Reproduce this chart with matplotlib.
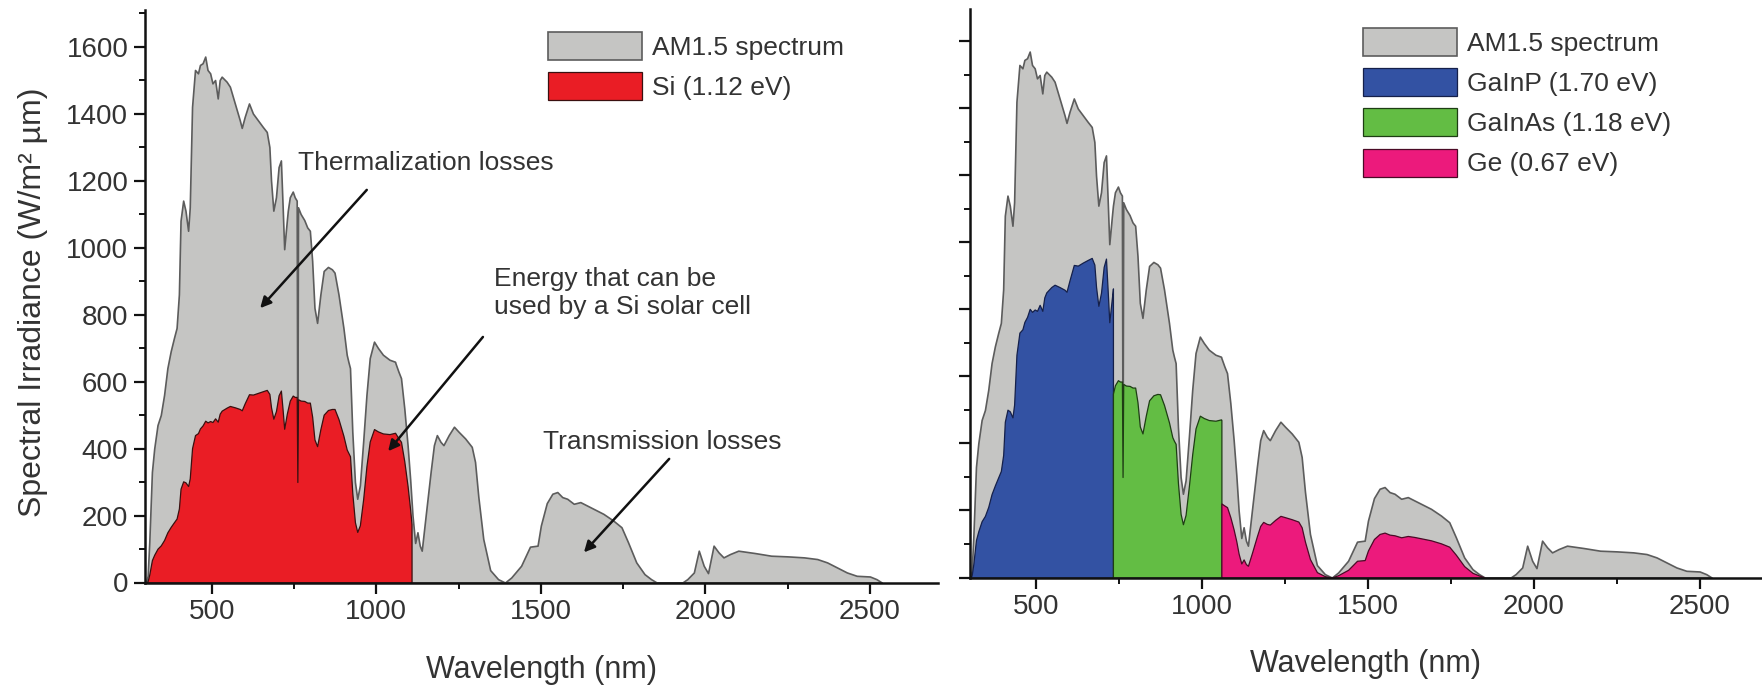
import matplotlib
matplotlib.use("Agg")
import matplotlib.pyplot as plt
from matplotlib.ticker import MultipleLocator

plt.rcParams['font.family'] = ['Liberation Sans', 'DejaVu Sans']

# ---- AM1.5 spectrum ----
wavelength = [300, 305, 310, 318, 325, 335, 345, 355, 365, 375, 385, 393, 400, 405, 413, 420, 428, 433,
              440, 449, 458, 464, 472, 480, 487, 495, 502, 510, 518, 524, 530, 545, 555, 570, 585, 591,
              600, 613, 625, 640, 655, 667, 675, 680, 687, 695, 703, 710, 715, 720, 728, 731, 737, 746,
              752, 758, 760, 762, 770, 781, 790, 798, 805, 812, 820, 830, 840, 853, 865, 873, 885, 900,
              910, 915, 920, 927, 935, 942, 950, 960, 970, 980, 993, 1005, 1020, 1040, 1057, 1058, 1067,
              1075, 1085, 1095, 1103, 1107, 1110, 1118, 1125, 1132, 1138, 1150, 1165, 1175, 1184, 1195,
              1204, 1220, 1236, 1250, 1270, 1290, 1300, 1310, 1325, 1346, 1370, 1391, 1410, 1440, 1467,
              1490, 1500, 1518, 1535, 1550, 1565, 1580, 1600, 1620, 1640, 1660, 1690, 1720, 1745, 1765,
              1790, 1815, 1835, 1852, 1930, 1945, 1965, 1980, 1995, 2008, 2025, 2040, 2055, 2075, 2100,
              2150, 2200, 2250, 2300, 2340, 2370, 2400, 2430, 2460, 2500, 2520, 2536]
am15 = [0, 20, 120, 330, 400, 470, 500, 560, 640, 690, 730, 760, 860, 1080, 1140, 1110, 1050, 1120,
        1420, 1530, 1520, 1545, 1550, 1570, 1530, 1520, 1490, 1500, 1445, 1500, 1510, 1495, 1480, 1430, 1380, 1357,
        1390, 1430, 1400, 1380, 1360, 1345, 1300, 1200, 1110, 1150, 1240, 1260, 1130, 995, 1080, 1110, 1150, 1167,
        1150, 1140, 310, 1120, 1100, 1082, 1060, 1050, 960, 820, 775, 860, 930, 942, 935, 925, 860, 760,
        680, 659, 640, 450, 300, 250, 290, 420, 560, 670, 719, 700, 680, 665, 659, 655, 630,
        610, 520, 410, 306, 245, 200, 118, 150, 110, 95, 200, 330, 410, 440, 420,
        410, 440, 465, 450, 430, 405, 360, 256, 130, 37, 10, 0, 15, 50, 107,
        110, 170, 237, 265, 270, 255, 250, 235, 240, 230, 220, 205, 185, 165, 120,
        60, 25, 10, 0, 0, 10, 30, 95, 50, 28, 110, 90, 75, 85, 95,
        88, 80, 78, 75, 70, 60, 45, 30, 20, 18, 10, 0]

# ---- Si (1.12 eV) usable part, left panel ----
si_wl = [300, 305, 310, 318, 325, 335, 345, 355, 365, 375, 385, 393, 400, 405, 413, 420, 428, 433,
         440, 449, 458, 464, 472, 480, 487, 495, 502, 510, 518, 524, 530, 545, 555, 570, 585, 591,
         600, 613, 625, 640, 655, 667, 675, 680, 687, 695, 703, 710, 715, 720, 728, 737, 746,
         752, 758, 760, 762, 770, 781, 790, 798, 805, 812, 820, 830, 840, 853, 865, 873, 885, 900,
         910, 915, 920, 927, 935, 942, 950, 960, 970, 980, 993, 1005, 1020, 1040, 1057, 1067,
         1075, 1085, 1095, 1103, 1107, 1107.1]
si_val = [0, 4, 24, 67, 83, 101, 111, 127, 150, 166, 180, 191, 221, 280, 302, 299, 288, 311,
          401, 440, 446, 460, 469, 483, 478, 482, 479, 490, 480, 504, 513, 522, 527, 523, 518, 514,
          535, 562, 561, 566, 571, 575, 563, 523, 489, 512, 559, 573, 518, 459, 504, 543, 558,
          554, 554, 300, 547, 543, 542, 537, 537, 495, 427, 407, 458, 501, 515, 518, 518, 488, 438,
          397, 387, 377, 267, 180, 151, 171, 249, 348, 421, 458, 451, 445, 443, 447, 431,
          420, 362, 288, 216, 174, 0]

# ---- Triple junction, right panel ----
gainp_wl = [300, 305, 310, 318, 325, 335, 345, 355, 365, 375, 385, 393, 400, 405, 413, 420, 428, 433,
            440, 449, 458, 464, 472, 480, 487, 495, 502, 510, 518, 524, 530, 545, 555, 570, 585, 591,
            600, 613, 625, 640, 655, 667, 675, 680, 687, 695, 703, 710, 715, 720, 728, 731, 731.1]
gainp_val = [0, 6, 40, 112, 138, 168, 184, 211, 249, 275, 299, 318, 366, 465, 501, 496, 478, 516,
             665, 731, 741, 763, 778, 802, 793, 800, 796, 814, 796, 836, 851, 867, 874, 867, 859, 853,
             887, 933, 931, 940, 948, 954, 934, 868, 811, 850, 927, 952, 859, 762, 836, 863, 0]

gainas_wl = [730.9, 731, 737, 746, 752, 758, 760, 762, 770, 781, 790, 798, 805, 812, 820, 830, 840, 853,
             865, 873, 885, 900, 910, 915, 920, 927, 935, 942, 950, 960, 970, 980, 993, 1005, 1020,
             1040, 1057, 1058, 1058.1]
gainas_val = [0, 549, 574, 589, 585, 585, 300, 578, 573, 572, 567, 567, 523, 451, 430, 483, 529, 544,
              548, 547, 515, 463, 419, 408, 399, 282, 190, 159, 187, 273, 368, 445, 483, 476, 470,
              468, 472, 470, 0]

ge_wl = [1057.9, 1058, 1067, 1075, 1085, 1095, 1103, 1110, 1118, 1125, 1132, 1138, 1150, 1165, 1175, 1184,
         1195, 1204, 1220, 1236, 1250, 1270, 1290, 1300, 1310, 1325, 1346, 1370, 1391, 1410, 1440,
         1467, 1490, 1500, 1518, 1535, 1550, 1565, 1580, 1600, 1620, 1640, 1660, 1690, 1720, 1745,
         1765, 1790, 1815, 1835, 1852]
ge_val = [0, 221, 215, 210, 180, 143, 108, 71, 42, 54, 40, 35, 73, 123, 154, 166,
          160, 158, 172, 184, 180, 174, 167, 150, 107, 55, 16, 4, 0, 7, 23,
          50, 52, 81, 115, 130, 134, 128, 126, 120, 124, 121, 117, 111, 102, 92,
          68, 34, 14, 6, 0]

labels_left = ["AM1.5 spectrum", "Si (1.12 eV)"]
labels_right = ["AM1.5 spectrum", "GaInP (1.70 eV)", "GaInAs (1.18 eV)", "Ge (0.67 eV)"]

GRAY = '#c5c5c3'
GRAY_EDGE = '#5c5c5c'
RED = '#ea1d25'
BLUE = '#3352a3'
GREEN = '#63bd44'
PINK = '#ec1a7c'
TXT = '#333333'

W, H = 1762, 688
fig = plt.figure(figsize=(W / 100, H / 100), dpi=100)

ax1 = fig.add_axes([145 / W, 1 - 582.5 / H, (938 - 145) / W, (582.5 - 10) / H])
ax2 = fig.add_axes([970 / W, 1 - 577.5 / H, (W - 970) / W, (577.5 - 9) / H])


def style(ax, show_ylabels=True):
    for s in ['top', 'right']:
        ax.spines[s].set_visible(False)
    for s in ['left', 'bottom']:
        ax.spines[s].set_linewidth(1.8)
        ax.spines[s].set_color('#111111')
    ax.xaxis.set_major_locator(MultipleLocator(500))
    ax.xaxis.set_minor_locator(MultipleLocator(250))
    ax.yaxis.set_major_locator(MultipleLocator(200))
    ax.yaxis.set_minor_locator(MultipleLocator(100))
    ax.tick_params(which='major', direction='out', length=8, width=1.6, colors='#111111',
                   labelsize=20, labelcolor=TXT, pad=4)
    ax.tick_params(which='minor', direction='out', length=4.5, width=1.4, colors='#111111')
    if not show_ylabels:
        ax.tick_params(axis='y', labelleft=False)
    ax.set_xlabel("Wavelength (nm)", fontsize=22, color=TXT)
    ax.xaxis.set_label_coords(0.5, -0.126)


# Left panel
h1 = ax1.fill_between(wavelength, 0, am15, facecolor=GRAY, edgecolor=GRAY_EDGE, linewidth=1.2,
                      label=labels_left[0])
h2 = ax1.fill_between(si_wl, 0, si_val, facecolor=RED, edgecolor='#3a1010', linewidth=0.9,
                      label=labels_left[1])
ax1.set_xlim(297, 2707)
ax1.set_ylim(0, 1709)
style(ax1)
ax1.set_ylabel("Spectral Irradiance (W/m² µm)", fontsize=23, color=TXT)
ax1.yaxis.set_label_coords(-0.122, 0.49)

fs_leg = 19
leg1 = ax1.legend(handles=[h1, h2], loc='upper left', bbox_to_anchor=(548 / W, 1 - 32 / H),
                  bbox_transform=fig.transFigure, frameon=False, fontsize=fs_leg,
                  handlelength=3.55, handleheight=1.25, labelspacing=0.47, handletextpad=0.4,
                  borderpad=0, borderaxespad=0)
for t in leg1.get_texts():
    t.set_color(TXT)

arrow = dict(arrowstyle='-|>', color='#111111', lw=1.8, mutation_scale=16, shrinkA=0, shrinkB=0)
ax1.text(762, 1252, "Thermalization losses", fontsize=19, color=TXT, ha='left', va='center')
ax1.annotate("", xy=(647, 819), xytext=(971, 1172), arrowprops=arrow)
ax1.text(1358, 864, "Energy that can be\nused by a Si solar cell", fontsize=19, color=TXT,
         ha='left', va='center', linespacing=1.25)
ax1.annotate("", xy=(1036, 392), xytext=(1324, 733), arrowprops=arrow)
ax1.text(1508, 418, "Transmission losses", fontsize=19, color=TXT, ha='left', va='center')
ax1.annotate("", xy=(1631, 90), xytext=(1890, 369), arrowprops=arrow)

# Right panel
g1 = ax2.fill_between(wavelength, 0, am15, facecolor=GRAY, edgecolor=GRAY_EDGE, linewidth=1.2,
                      label=labels_right[0])
g2 = ax2.fill_between(gainp_wl, 0, gainp_val, facecolor=BLUE, edgecolor='#15204a', linewidth=0.9,
                      label=labels_right[1])
g3 = ax2.fill_between(gainas_wl, 0, gainas_val, facecolor=GREEN, edgecolor='#1e3d14', linewidth=0.9,
                      label=labels_right[2])
g4 = ax2.fill_between(ge_wl, 0, ge_val, facecolor=PINK, edgecolor='#4a0a26', linewidth=0.9,
                      label=labels_right[3])
ax2.set_xlim(300, 300 + (W - 970) / 0.33165)
ax2.set_ylim(0, 1697)
style(ax2, show_ylabels=False)

leg2 = ax2.legend(handles=[g1, g2, g3, g4], loc='upper left', bbox_to_anchor=(1363 / W, 1 - 27.7 / H),
                  bbox_transform=fig.transFigure, frameon=False, fontsize=fs_leg,
                  handlelength=3.55, handleheight=1.25, labelspacing=0.47, handletextpad=0.4,
                  borderpad=0, borderaxespad=0)
for t in leg2.get_texts():
    t.set_color(TXT)

fig.savefig("out.png", dpi=100, facecolor='white')
